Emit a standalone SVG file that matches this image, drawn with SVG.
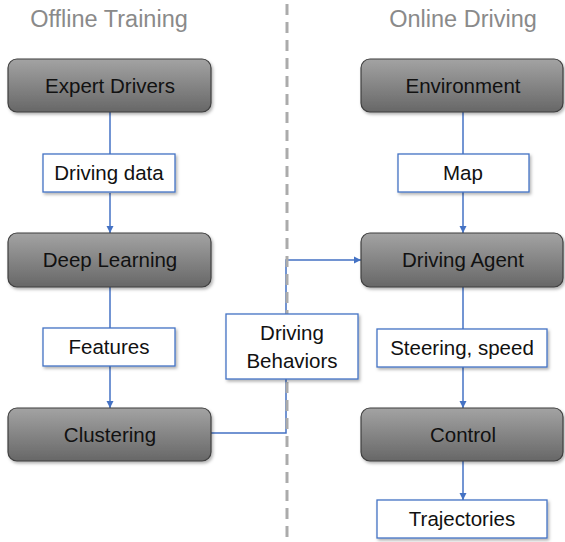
<svg xmlns="http://www.w3.org/2000/svg" width="565" height="542" viewBox="0 0 565 542">
<defs>
<linearGradient id="dark" x1="0" y1="0" x2="0" y2="1">
<stop offset="0" stop-color="#a3a3a3"/>
<stop offset="1" stop-color="#676767"/>
</linearGradient>
<filter id="sh" x="-10%" y="-10%" width="130%" height="140%">
<feDropShadow dx="1.5" dy="2" stdDeviation="1.5" flood-color="#000" flood-opacity="0.3"/>
</filter>
<marker id="arr" viewBox="0 0 10 10" refX="10" refY="5" markerWidth="5" markerHeight="5" orient="auto" markerUnits="strokeWidth">
<path d="M0,0 L10,5 L0,10 z" fill="#4472c4"/>
</marker>
</defs>
<style>
.dark{fill:url(#dark);stroke:#3f3f3f;stroke-width:1.2;filter:url(#sh)}
.light{fill:#fff;stroke:#4472c4;stroke-width:1.3;filter:url(#sh)}
.t{font-family:"Liberation Sans",Arial,sans-serif;font-size:20.5px;fill:#111;text-anchor:middle}
.title{font-family:"Liberation Sans",Arial,sans-serif;font-size:23.5px;fill:#8a8a8a;text-anchor:middle}
.c{fill:none;stroke:#4472c4;stroke-width:1.5}
.a{marker-end:url(#arr)}
</style>
<rect width="565" height="542" fill="#fff"/>
<text class="title" x="109" y="27">Offline Training</text>
<text class="title" x="463" y="27">Online Driving</text>
<g id="connectors">
<line class="c" x1="110" y1="112" x2="110" y2="154"/>
<line class="c a" x1="110" y1="193" x2="110" y2="233"/>
<line class="c" x1="110" y1="287" x2="110" y2="328"/>
<line class="c a" x1="110" y1="366" x2="110" y2="408"/>
<line class="c" x1="463" y1="112" x2="463" y2="154"/>
<line class="c a" x1="463" y1="192" x2="463" y2="233"/>
<line class="c" x1="463" y1="287" x2="463" y2="329"/>
<line class="c a" x1="463" y1="367" x2="463" y2="408"/>
<line class="c a" x1="463" y1="461" x2="463" y2="500"/>
<polyline class="c a" points="211,433 286,433 286,260 361,260"/>
</g>
<line id="divider" x1="287" y1="4" x2="287" y2="542" stroke="#ababab" stroke-width="3" stroke-dasharray="11,7"/>
<g id="expert-drivers"><rect class="dark" x="8" y="59" width="203" height="53" rx="9"/><text class="t" x="110" y="93">Expert Drivers</text></g>
<g id="driving-data"><rect class="light" x="43" y="154" width="132" height="38"/><text class="t" x="109" y="180">Driving data</text></g>
<g id="deep-learning"><rect class="dark" x="8" y="233" width="203" height="54" rx="9"/><text class="t" x="110" y="267">Deep Learning</text></g>
<g id="features"><rect class="light" x="43" y="328" width="132" height="38"/><text class="t" x="109" y="354">Features</text></g>
<g id="clustering"><rect class="dark" x="8" y="408" width="203" height="53" rx="9"/><text class="t" x="110" y="442">Clustering</text></g>
<g id="driving-behaviors"><rect class="light" x="226" y="314" width="132" height="65"/><text class="t" x="292" y="340">Driving</text><text class="t" x="292" y="368">Behaviors</text></g>
<g id="environment"><rect class="dark" x="361" y="59" width="202" height="53" rx="9"/><text class="t" x="463" y="93">Environment</text></g>
<g id="map"><rect class="light" x="398" y="154" width="131" height="38"/><text class="t" x="463" y="180">Map</text></g>
<g id="driving-agent"><rect class="dark" x="361" y="233" width="202" height="54" rx="9"/><text class="t" x="463" y="267">Driving Agent</text></g>
<g id="steering-speed"><rect class="light" x="377" y="329" width="170" height="38"/><text class="t" x="462" y="355">Steering, speed</text></g>
<g id="control"><rect class="dark" x="361" y="408" width="202" height="53" rx="9"/><text class="t" x="463" y="442">Control</text></g>
<g id="trajectories"><rect class="light" x="377" y="500" width="170" height="38"/><text class="t" x="462" y="526">Trajectories</text></g>
</svg>
